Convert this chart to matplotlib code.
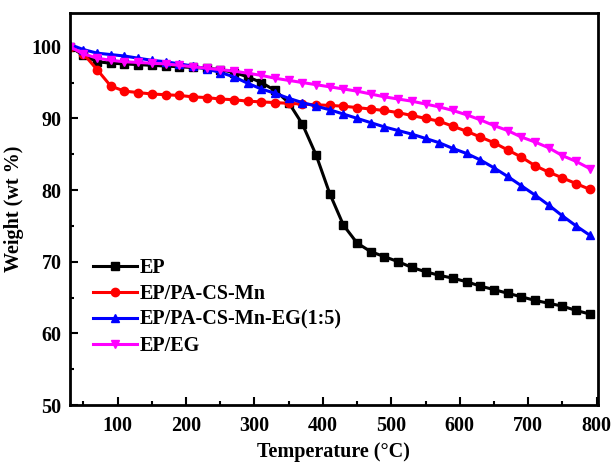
import numpy as np
import matplotlib
matplotlib.use("Agg")
import matplotlib.pyplot as plt
from matplotlib.ticker import MultipleLocator

plt.rcParams.update({"font.family": "Liberation Serif", "font.weight": "bold",
                     "font.size": 14.5})

temp = np.arange(30, 800, 20)

ep = [100.0, 98.8, 97.9, 97.7, 97.6, 97.5, 97.4, 97.3, 97.2, 97.1, 97.0, 96.8,
      96.4, 95.8, 95.0, 93.9, 92.2, 89.2, 84.9, 79.5, 75.1, 72.6, 71.4, 70.7,
      70.0, 69.2, 68.6, 68.1, 67.7, 67.2, 66.6, 66.1, 65.6, 65.1, 64.6, 64.2,
      63.8, 63.2, 62.7]
ep_mn = [100.0, 99.0, 96.8, 94.5, 93.8, 93.6, 93.4, 93.3, 93.2, 93.0, 92.9,
         92.7, 92.6, 92.4, 92.3, 92.2, 92.1, 92.0, 91.9, 91.8, 91.7, 91.5, 91.3,
         91.1, 90.8, 90.4, 90.0, 89.6, 88.9, 88.2, 87.4, 86.6, 85.6, 84.6, 83.4,
         82.5, 81.7, 80.9, 80.1]
ep_mn_eg = [100.3, 99.6, 99.1, 98.9, 98.7, 98.4, 98.1, 97.9, 97.6, 97.3, 96.9,
            96.4, 95.8, 94.9, 94.1, 93.5, 92.8, 92.2, 91.7, 91.2, 90.6, 90.0,
            89.4, 88.8, 88.3, 87.8, 87.2, 86.6, 85.8, 85.1, 84.2, 83.1, 81.9,
            80.6, 79.3, 77.9, 76.4, 75.0, 73.7]
ep_eg = [100.0, 99.0, 98.4, 98.1, 97.9, 97.8, 97.7, 97.6, 97.4, 97.2, 97.0,
         96.8, 96.6, 96.3, 96.0, 95.6, 95.3, 95.0, 94.7, 94.4, 94.1, 93.8, 93.4,
         93.0, 92.7, 92.4, 92.0, 91.6, 91.1, 90.5, 89.8, 89.0, 88.3, 87.4, 86.7,
         85.9, 84.8, 84.0, 83.0]

series = [
    ("EP", ep, "black", "s"),
    ("EP/PA-CS-Mn", ep_mn, "red", "o"),
    ("EP/PA-CS-Mn-EG(1:5)", ep_mn_eg, "blue", "^"),
    ("EP/EG", ep_eg, "magenta", "v"),
]

fig = plt.figure(figsize=(6.12, 4.65), dpi=100)
ax = fig.add_axes([0.114, 0.129, 0.863, 0.843])

for label, vals, col, mk in series:
    ax.plot(temp, vals, color=col, marker=mk, ms=6, lw=2.2, label=label)

ax.set_xlim(30, 802)
ax.set_ylim(50, 104.7)
ax.xaxis.set_major_locator(MultipleLocator(100))
ax.xaxis.set_minor_locator(MultipleLocator(50))
ax.yaxis.set_major_locator(MultipleLocator(10))
ax.yaxis.set_minor_locator(MultipleLocator(5))
ax.tick_params(which="both", direction="in", top=False, right=False, width=1.5)
ax.tick_params(which="major", length=6, labelsize=14.5)
ax.tick_params(which="minor", length=3)
ax.tick_params(axis="x", pad=8)
ax.tick_params(axis="y", pad=6)
for s in ax.spines.values():
    s.set_linewidth(2)

ax.set_xlabel("Temperature (°C)", fontsize=14.5, fontweight="bold", labelpad=4)
ax.set_ylabel("Weight (wt %)", fontsize=14.5, fontweight="bold", labelpad=5)

leg = ax.legend(loc="lower left", bbox_to_anchor=(0.044, 0.125), frameon=False,
                borderaxespad=0, borderpad=0,
                handlelength=2.2, handletextpad=0.1, labelspacing=0.3,
                prop={"weight": "bold", "size": 14.5})

fig.savefig("out.png", dpi=100)
